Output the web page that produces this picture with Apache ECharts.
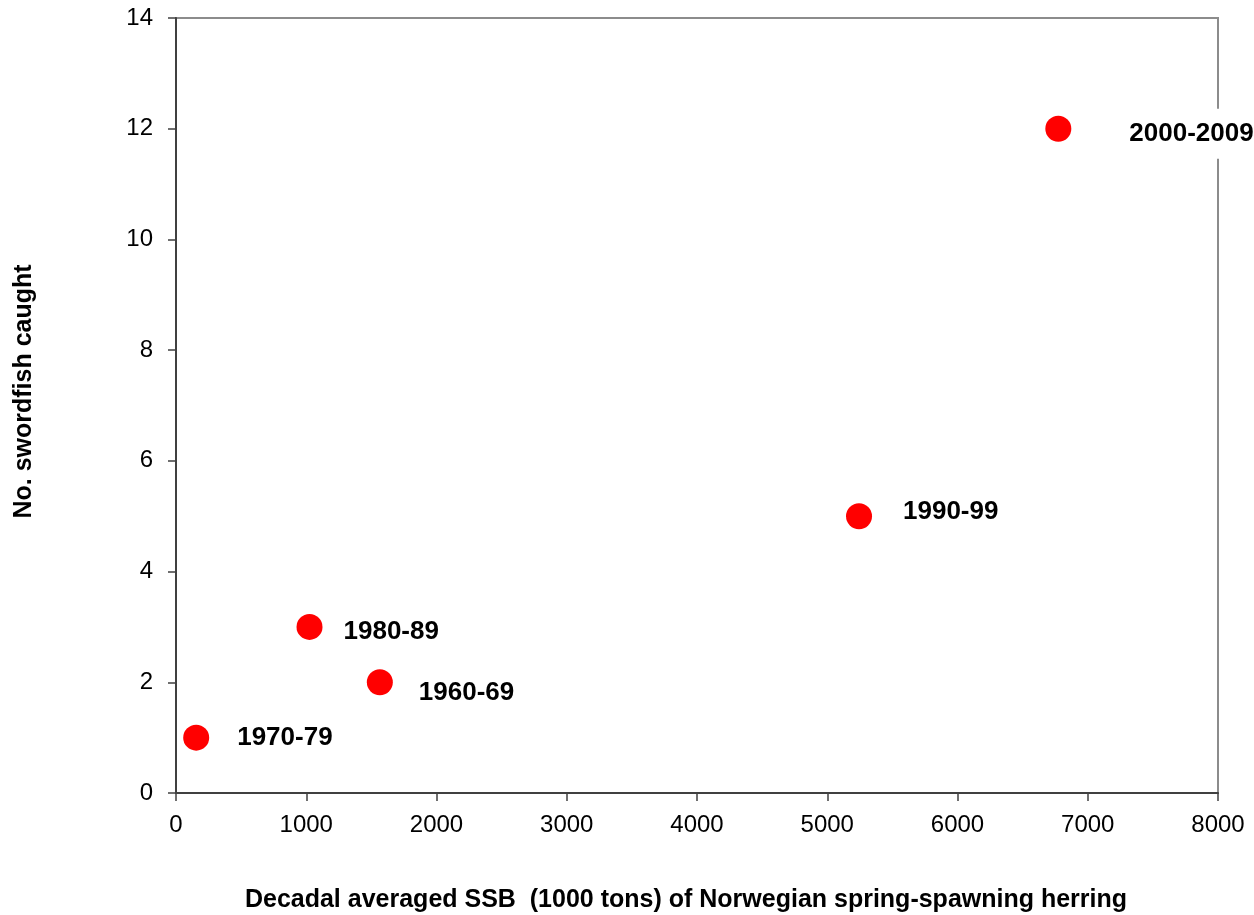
<!DOCTYPE html>
<html>
<head>
<meta charset="utf-8">
<script src="https://cdn.jsdelivr.net/npm/echarts@6/dist/echarts.min.js"></script>
<style>
  html, body { margin: 0; padding: 0; background: #fff; }
  #chart { width: 1254px; height: 915px; }
</style>
</head>
<body>
<div id="chart"></div>
<script>
// Decadal herring SSB vs. swordfish catches
const decades = ['1970-79', '1980-89', '1960-69', '1990-99', '2000-2009'];
const ssb = [155, 1025, 1565, 5244, 6774];       // 1000 tons
const swordfish = [1, 3, 2, 5, 12];               // number caught

const xTicks = { min: 0, max: 8000, interval: 1000 };
const yTicks = { min: 0, max: 14, interval: 2 };

// label placement per point: [distance from marker edge, vertical shift]
const labelPlacement = [[28, 0], [21, 5], [26, 11], [31, -4], [54, 5]];

const FONT = '"Liberation Sans", Arial, sans-serif';

const points = decades.map((d, i) => {
  const item = { name: d, value: [ssb[i], swordfish[i]] };
  const [dist, dy] = labelPlacement[i];
  item.label = { distance: dist, offset: [0, dy] };
  if (i === decades.length - 1) {
    item.label.backgroundColor = '#fff';
    item.label.padding = [12, 4];
  }
  return item;
});

const chart = echarts.init(document.getElementById('chart'), null, { renderer: 'canvas' });
chart.setOption({
  animation: false,
  backgroundColor: '#fff',
  grid: {
    left: 176, right: 36, top: 18, bottom: 122,
    containLabel: false, outerBoundsMode: 'none',
    show: true, borderColor: '#8c8c8c', borderWidth: 2, backgroundColor: 'transparent'
  },
  xAxis: {
    type: 'value',
    min: xTicks.min, max: xTicks.max, interval: xTicks.interval,
    name: 'Decadal averaged SSB  (1000 tons) of Norwegian spring-spawning herring',
    nameLocation: 'middle', nameGap: 95,
    nameTextStyle: { fontFamily: FONT, fontSize: 25, fontWeight: 'bold', color: '#000', padding: [0, 22, 0, 0] },
    axisLine: { show: true, lineStyle: { color: '#404040', width: 2 } },
    axisTick: { show: true, length: 8, lineStyle: { color: '#404040', width: 1.5 } },
    axisLabel: { fontFamily: FONT, fontSize: 24, color: '#000', margin: 20, formatter: v => String(v) },
    splitLine: { show: false }
  },
  yAxis: {
    type: 'value',
    min: yTicks.min, max: yTicks.max, interval: yTicks.interval,
    name: 'No. swordfish caught',
    nameLocation: 'middle', nameGap: 139, nameRotate: 90,
    nameTextStyle: { fontFamily: FONT, fontSize: 25, fontWeight: 'bold', color: '#000', padding: [0, 0, 0, 28] },
    axisLine: { show: true, lineStyle: { color: '#404040', width: 2 } },
    axisTick: { show: true, length: 8, lineStyle: { color: '#404040', width: 1.5 } },
    axisLabel: { fontFamily: FONT, fontSize: 24, color: '#000', margin: 23, formatter: v => String(v) },
    splitLine: { show: false }
  },
  series: [{
    type: 'scatter',
    data: points,
    symbol: 'circle',
    symbolSize: 26,
    itemStyle: { color: '#ff0000', opacity: 1 },
    label: {
      show: true,
      position: 'right',
      formatter: p => p.name,
      fontFamily: FONT, fontSize: 26, fontWeight: 'bold', color: '#000'
    },
    emphasis: { disabled: true }
  }]
});
</script>
</body>
</html>
